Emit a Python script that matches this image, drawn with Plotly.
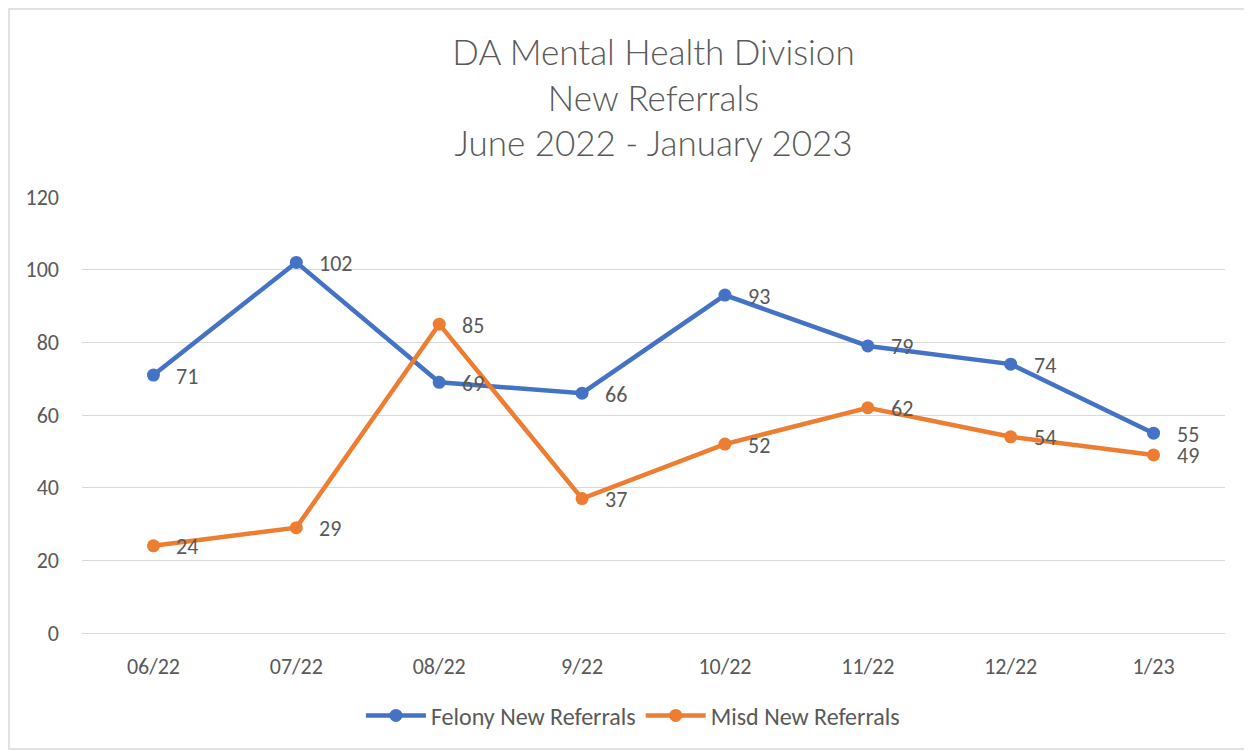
import plotly.graph_objects as go

months = ["06/22", "07/22", "08/22", "9/22", "10/22", "11/22", "12/22", "1/23"]
felony = [71, 102, 69, 66, 93, 79, 74, 55]
misd = [24, 29, 85, 37, 52, 62, 54, 49]
y_ticks = [0, 20, 40, 60, 80, 100, 120]

BLUE = "#4472C4"
ORANGE = "#ED7D31"
GRAY = "#595959"
FONT = "Calibri, Carlito, Lato, sans-serif"
TITLE_FONT = "Calibri Light, Lato Light, Lato, sans-serif"

fig = go.Figure()
fig.add_trace(go.Scatter(
    x=months, y=felony, mode="lines+markers", name="Felony New Referrals",
    line=dict(color=BLUE, width=4.5), marker=dict(size=13, color=BLUE),
))
fig.add_trace(go.Scatter(
    x=months, y=misd, mode="lines+markers", name="Misd New Referrals",
    line=dict(color=ORANGE, width=4.5), marker=dict(size=13, color=ORANGE),
))

annotations = []
for series in (felony, misd):
    for m, v in zip(months, series):
        annotations.append(dict(
            x=m, y=v, xref="x", yref="y", text=str(v), showarrow=False,
            xanchor="left", yanchor="middle", xshift=21, yshift=-1,
            font=dict(size=22, color=GRAY, family=FONT),
        ))

fig.update_layout(
    width=1244, height=743,
    margin=dict(l=74, r=27, t=189, b=118),
    paper_bgcolor="white", plot_bgcolor="white",
    font=dict(family=FONT, color=GRAY, size=22),
    title=dict(
        text="DA Mental Health Division<br>New Referrals<br>June 2022 - January 2023",
        x=0.5, xref="paper", xanchor="center", y=0.923, yref="container", yanchor="top",
        font=dict(size=35, color=GRAY, family=TITLE_FONT),
    ),
    xaxis=dict(
        type="category", range=[-0.5, 7.5], showgrid=False, showline=True,
        linecolor="#D9D9D9", linewidth=1, ticks="", tickfont=dict(size=22, color=GRAY),
        ticklabelstandoff=14,
    ),
    yaxis=dict(
        range=[0, 120], tickvals=y_ticks, showgrid=True, gridcolor="#D9D9D9",
        gridwidth=1, zeroline=False, showline=False, ticks="",
        tickfont=dict(size=22, color=GRAY), ticklabelstandoff=22,
    ),
    legend=dict(
        orientation="h", x=0.482, xanchor="center", y=-0.19, yanchor="middle",
        font=dict(size=24, color=GRAY), itemwidth=60,
    ),
    annotations=annotations,
    shapes=[dict(
        type="rect", xref="paper", yref="paper",
        x0=-0.0639, x1=1.0184, y0=-0.266, y1=1.431,
        line=dict(color="#D9D9D9", width=1.5), fillcolor="rgba(0,0,0,0)", layer="below",
    )],
)

fig.write_html("out.html")
